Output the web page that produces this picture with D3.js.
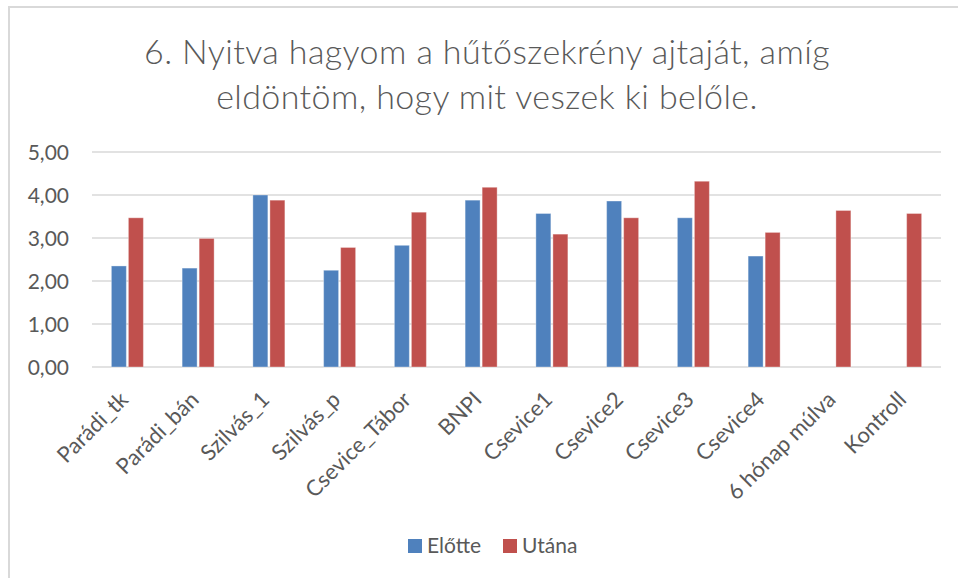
<!DOCTYPE html>
<html>
<head>
<meta charset="utf-8">
<script src="https://cdn.jsdelivr.net/npm/d3@7"></script>
<style>
  html, body { margin: 0; padding: 0; background: #fff; }
  svg { display: block; font-family: Lato, "Open Sans", sans-serif; }
</style>
</head>
<body>
<div id="chart"></div>
<script>
// Data
const categories = ["Parádi_tk", "Parádi_bán", "Szilvás_1", "Szilvás_p", "Csevice_Tábor", "BNPI",
    "Csevice1", "Csevice2", "Csevice3", "Csevice4", "6 hónap múlva", "Kontroll"];
const seriesNames = ["Előtte", "Utána"];
const elotte = [2.35, 2.30, 4.00, 2.25, 2.83, 3.88, 3.57, 3.86, 3.47, 2.58, null, null];
const utana = [3.47, 2.99, 3.88, 2.78, 3.60, 4.18, 3.09, 3.47, 4.32, 3.13, 3.64, 3.57];
const yTicks = [0, 1, 2, 3, 4, 5];
const titleLines = ["6. Nyitva hagyom a hűtőszekrény ajtaját, amíg", "eldöntöm, hogy mit veszek ki belőle."];

const colors = { "Előtte": "#4f81bd", "Utána": "#c0504d" };

const width = 958, height = 578;
const plot = { left: 92, right: 941, top: 152, bottom: 367 };

const svg = d3.select("#chart")
    .append("svg")
    .attr("width", width)
    .attr("height", height)
    .attr("viewBox", [0, 0, width, height]);

// chart frame (only top/left edges show in the crop)
svg.append("rect")
    .attr("x", 9).attr("y", 7)
    .attr("width", width + 20).attr("height", height + 20)
    .attr("fill", "#fff")
    .attr("stroke", "#d9d9d9")
    .attr("stroke-width", 2);

// title
svg.append("g")
    .selectAll("text")
    .data(titleLines)
    .join("text")
    .attr("x", 487)
    .attr("y", (d, i) => 64 + i * 45)
    .attr("text-anchor", "middle")
    .attr("fill", "#595959")
    .style("font-size", "34px")
    .style("font-weight", 300)
    .style("letter-spacing", "0.4px")
    .text(d => d);

const x0 = d3.scaleBand()
    .domain(categories)
    .range([plot.left, plot.right])
    .paddingInner(0.49)
    .paddingOuter(0.245);

const x1 = d3.scaleBand()
    .domain(seriesNames)
    .range([0, x0.bandwidth()])
    .padding(0.12);

const y = d3.scaleLinear()
    .domain([0, 5])
    .range([plot.bottom, plot.top]);

// gridlines
svg.append("g")
    .selectAll("line")
    .data(yTicks)
    .join("line")
    .attr("x1", plot.left)
    .attr("x2", plot.right)
    .attr("y1", d => y(d))
    .attr("y2", d => y(d))
    .attr("stroke", "#d9d9d9")
    .attr("stroke-width", 1.5);

// y axis labels
const fmt = d => d3.format(".2f")(d).replace(".", ",");
svg.append("g")
    .selectAll("text")
    .data(yTicks)
    .join("text")
    .attr("x", 69)
    .attr("y", d => y(d))
    .attr("dy", "0.36em")
    .attr("text-anchor", "end")
    .attr("fill", "#595959")
    .style("font-size", "21px")
    .text(fmt);

// bars
const rows = categories.map((c, i) => ({ cat: c, values: [
    { key: "Előtte", value: elotte[i] },
    { key: "Utána", value: utana[i] }
]}));

svg.append("g")
    .selectAll("g")
    .data(rows)
    .join("g")
    .attr("transform", d => `translate(${x0(d.cat)},0)`)
    .selectAll("rect")
    .data(d => d.values.filter(v => v.value != null))
    .join("rect")
    .attr("x", d => x1(d.key))
    .attr("y", d => y(d.value))
    .attr("width", x1.bandwidth())
    .attr("height", d => y(0) - y(d.value))
    .attr("fill", d => colors[d.key])
    .attr("stroke", "rgba(255,255,255,0.35)")
    .attr("stroke-width", 1);

// x axis labels
svg.append("g")
    .selectAll("text")
    .data(categories)
    .join("text")
    .attr("transform", d => `translate(${x0(d) + x0.bandwidth() / 2 + 2},${plot.bottom + 34}) rotate(-45)`)
    .attr("text-anchor", "end")
    .attr("fill", "#595959")
    .style("font-size", "22px")
    .text(d => d);

// legend
const legend = svg.append("g")
    .selectAll("g")
    .data(seriesNames)
    .join("g")
    .attr("transform", (d, i) => `translate(${408 + i * 95},539)`);

legend.append("rect")
    .attr("width", 14)
    .attr("height", 14)
    .attr("fill", d => colors[d]);

legend.append("text")
    .attr("x", 19)
    .attr("y", 14)
    .attr("fill", "#595959")
    .style("font-size", "21px")
    .text(d => d);
</script>
</body>
</html>
